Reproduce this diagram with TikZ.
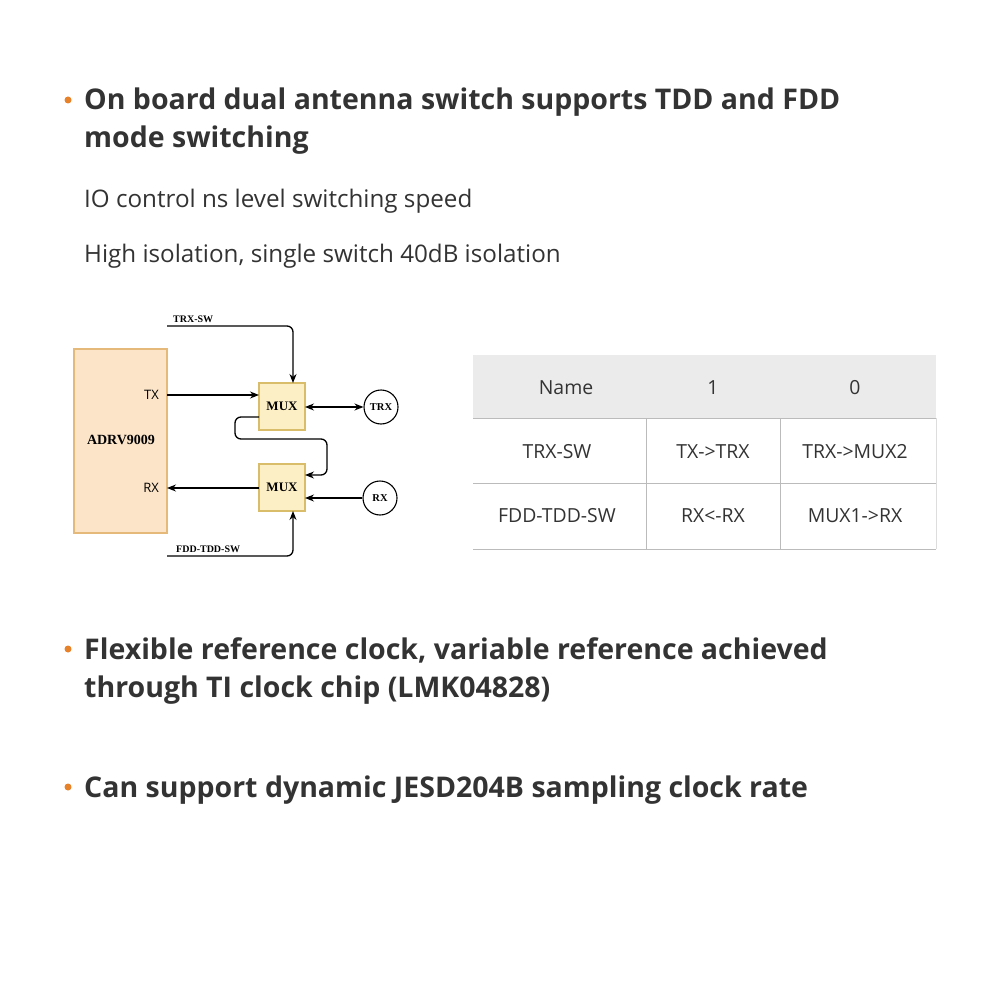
\documentclass[tikz,border=0pt]{standalone}
\usepackage{fontspec}
\setmainfont{Open Sans}
\newfontfamily\serifb{Liberation Serif}
\usetikzlibrary{arrows.meta}
\definecolor{txt}{HTML}{333333}
\definecolor{bulc}{HTML}{E8822A}
\definecolor{chipf}{HTML}{FCE4C8}
\definecolor{chipd}{HTML}{E5B97A}
\definecolor{muxf}{HTML}{FCEFC6}
\definecolor{muxd}{HTML}{D9BD6A}
\definecolor{hdr}{HTML}{EBEBEB}
\definecolor{gridc}{HTML}{BBBBBB}
\tikzset{
 head/.style={anchor=base west,font=\fontsize{28.5}{28}\selectfont\bfseries,text=txt,inner sep=0},
 body/.style={anchor=base west,font=\fontsize{24.2}{24}\selectfont,text=txt,inner sep=0},
 cell/.style={font=\fontsize{19.4}{19}\selectfont,text=txt,inner sep=0},
 sm/.style={font=\serifb\bfseries\fontsize{10}{10}\selectfont,inner sep=0},
 mux/.style={draw=muxd,fill=muxf,minimum width=46pt,minimum height=47pt,font=\serifb\bfseries\fontsize{13}{13}\selectfont,inner sep=0},
 ant/.style={draw,line width=1.1pt,circle,minimum size=34pt,inner sep=0,font=\serifb\bfseries\fontsize{10.5}{10}\selectfont},
 wire/.style={line width=1.3pt,-{Stealth[length=9pt,width=7pt]}},
 dot/.style={fill=bulc,circle,inner sep=0,minimum size=7pt}
}
\begin{document}
\begin{tikzpicture}[x=1pt,y=-1pt]
\useasboundingbox (0,0) rectangle (1000,1000);
\fill[white] (0,0) rectangle (1000,1000);
\node[dot] (d1) at (68,100) {};
\node[head] (h1) at (84,110) {On board dual antenna switch supports TDD and FDD};
\node[head] (h1b) at (84,148) {mode switching};
\node[body] (b1) at (84,208) {IO control ns level switching speed};
\node[body] (b2) at (84,262) {High isolation, single switch 40dB isolation};
\node[draw=chipd,line width=1.2pt,fill=chipf,minimum width=93pt,minimum height=184pt,inner sep=0] (chip) at (120.5,441) {};
\node[inner sep=0,font=\serifb\bfseries\fontsize{14}{14}\selectfont] (chipl) at (121,440) {ADRV9009};
\node[font=\fontsize{13}{13}\selectfont,anchor=east,inner sep=0] (tx) at (159,395) {TX};
\node[font=\fontsize{13}{13}\selectfont,anchor=east,inner sep=0] (rx) at (159,488) {RX};
\node[mux,line width=1.2pt] (m1) at (282,406.5) {MUX};
\node[mux,line width=1.2pt] (m2) at (282,487.5) {MUX};
\node[ant] (trx) at (381,407) {TRX};
\node[ant] (rxa) at (380,498) {RX};
\coordinate (sw1) at (167,326);
\coordinate (sw2) at (167,556);
\node[sm,anchor=base west] (l1) at (173,322) {TRX-SW};
\node[sm,anchor=base west] (l2) at (176,552) {FDD-TDD-SW};
\draw[wire,rounded corners=6pt] (sw1) -- (293,326) -- (293,383);
\draw[wire,rounded corners=6pt] (sw2) -- (293,556) -- (293,511);
\draw[wire] (167,395) -- (259,395);
\draw[wire] (259,488) -- (167,488);
\draw[line width=1.3pt,{Stealth[length=9pt,width=7pt]}-{Stealth[length=9pt,width=7pt]}] (305,407) -- (trx.west);
\draw[wire] (rxa.west) -- (305,498);
\draw[wire,rounded corners=6pt] (259,417) -- (235,417) -- (235,439) -- (327,439) -- (327,475) -- (305,475);
\fill[hdr] (473,355) rectangle (936,418);
\draw[gridc] (473,418) -- (936,418) (473,483) -- (936,483) (473,549) -- (936,549);
\draw[gridc] (646,418) -- (646,549) (780,418) -- (780,549);
\draw[gridc!50] (936,418) -- (936,549);
\node[cell] (n) at (566,388) {Name};
\node[cell] (c1) at (713,388) {1};
\node[cell] (c0) at (855,388) {0};
\node[cell] (r1) at (557,452) {TRX-SW};
\node[cell] (r2) at (713,452) {TX->TRX};
\node[cell] (r3) at (855,452) {TRX->MUX2};
\node[cell] (s1) at (557,516) {FDD-TDD-SW};
\node[cell] (s2) at (713,516) {RX<-RX};
\node[cell] (s3) at (855,516) {MUX1->RX};
\node[dot] (d2) at (68,649) {};
\node[head] (h2) at (84,659) {Flexible reference clock, variable reference achieved};
\node[head] (h2b) at (84,697) {through TI clock chip (LMK04828)};
\node[dot] (d3) at (68,787) {};
\node[head] (h3) at (84,797) {Can support dynamic JESD204B sampling clock rate};
\end{tikzpicture}
\end{document}
